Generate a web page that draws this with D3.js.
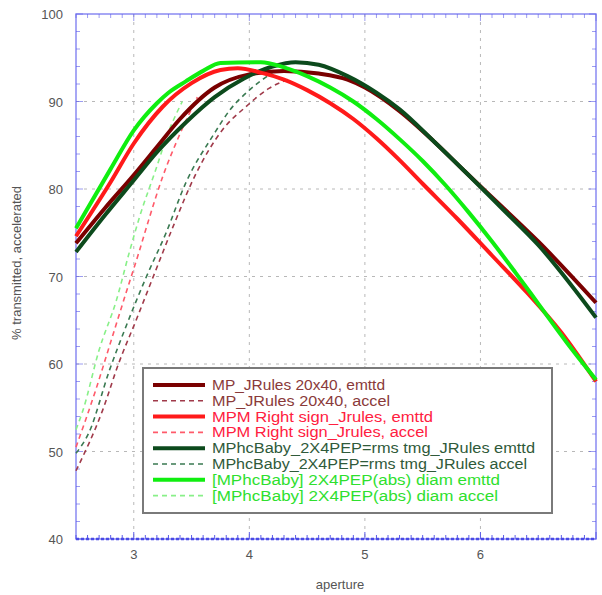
<!DOCTYPE html>
<html>
<head>
<meta charset="utf-8">
<script src="https://cdn.jsdelivr.net/npm/d3@7"></script>
<style>
  html, body { margin: 0; padding: 0; background: #fff; }
  svg { display: block; font-family: "Liberation Sans", "DejaVu Sans", sans-serif; }
</style>
</head>
<body>
<svg id="chart" width="602" height="595"></svg>
<script>
// ---- data ----
const seriesNames = [
  "MP_JRules 20x40, emttd",
  "MP_JRules 20x40, accel",
  "MPM Right sign_Jrules, emttd",
  "MPM Right sign_Jrules, accel",
  "MPhcBaby_2X4PEP=rms tmg_JRules emttd",
  "MPhcBaby_2X4PEP=rms tmg_JRules accel",
  "[MPhcBaby] 2X4PEP(abs) diam emttd",
  "[MPhcBaby] 2X4PEP(abs) diam accel"
];
const seriesColors = ["#7a0000", "#a03a4a", "#ff1a1a", "#ff5a6a", "#0c4a1c", "#3a7a52", "#10ee10", "#88f088"];
const seriesTextColors = ["#8a3a3a", "#8a3a3a", "#ff2040", "#ff2040", "#2f5a3a", "#2f5a3a", "#2ee02e", "#2ee02e"];
const seriesDashed = [false, true, false, true, false, true, false, true];

const mpEmttdX = [2.5, 2.75, 3.0, 3.2, 3.4, 3.7, 4.0, 4.3, 4.6, 4.85, 5.0, 5.3, 5.6, 5.85, 6.2, 6.5, 7.0];
const mpEmttdY = [73.8, 77.8, 81.6, 84.8, 88.0, 91.6, 93.1, 93.5, 93.2, 92.5, 91.6, 88.9, 85.4, 82.2, 77.8, 74.0, 67.0];

const mpAccelX = [2.5, 2.73, 2.87, 3.02, 3.19, 3.34, 3.54, 3.77, 3.97, 4.17, 4.35];
const mpAccelY = [47.8, 54.7, 60.1, 65.0, 70.7, 75.7, 81.8, 86.8, 89.4, 91.5, 92.6];

const mpmEmttdX = [2.5, 2.8, 3.0, 3.25, 3.5, 3.75, 3.9, 4.1, 4.3, 4.5, 4.7, 4.9, 5.1, 5.3, 5.5, 5.8, 6.1, 6.4, 6.7, 7.0];
const mpmEmttdY = [74.6, 80.8, 85.2, 89.4, 92.1, 93.6, 93.8, 93.3, 92.5, 91.3, 89.8, 88.0, 85.8, 83.3, 80.6, 76.6, 72.4, 68.2, 63.6, 58.0];

const mpmAccelX = [2.5, 2.67, 2.8, 2.93, 3.05, 3.13, 3.25, 3.39, 3.55];
const mpmAccelY = [50.5, 57.0, 62.5, 68.0, 73.0, 76.5, 81.4, 86.0, 90.5];

const babyEmttdX = [2.5, 2.75, 3.0, 3.2, 3.45, 3.7, 3.95, 4.2, 4.4, 4.6, 4.85, 5.1, 5.3, 5.6, 5.85, 6.2, 6.5, 7.0];
const babyEmttdY = [72.8, 77.0, 81.0, 84.2, 87.6, 90.5, 92.6, 94.0, 94.5, 94.2, 92.9, 91.0, 89.1, 85.4, 82.2, 77.6, 73.6, 65.3];

const babyAccelX = [2.5, 2.61, 2.79, 2.93, 3.11, 3.28, 3.45, 3.69, 3.83, 4.0, 4.2];
const babyAccelY = [49.8, 52.1, 59.3, 64.2, 70.0, 75.0, 80.7, 86.2, 89.0, 91.3, 93.3];

const diamEmttdX = [2.5, 2.8, 3.0, 3.2, 3.3, 3.45, 3.6, 3.75, 4.1, 4.3, 4.5, 4.7, 4.9, 5.1, 5.3, 5.5, 5.7, 5.9, 6.1, 6.3, 6.5, 6.75, 7.0];
const diamEmttdY = [75.5, 82.3, 86.7, 89.8, 91.0, 92.3, 93.5, 94.4, 94.5, 93.9, 92.9, 91.6, 90.0, 88.0, 85.7, 83.2, 80.4, 77.3, 74.0, 70.5, 66.9, 62.4, 58.2];

const diamAccelX = [2.5, 2.56, 2.7, 2.85, 2.96, 3.05, 3.19, 3.3, 3.42];
const diamAccelY = [52.5, 54.7, 61.6, 67.3, 72.7, 76.8, 82.2, 86.5, 90.0];

const seriesX = [mpEmttdX, mpAccelX, mpmEmttdX, mpmAccelX, babyEmttdX, babyAccelX, diamEmttdX, diamAccelX];
const seriesY = [mpEmttdY, mpAccelY, mpmEmttdY, mpmAccelY, babyEmttdY, babyAccelY, diamEmttdY, diamAccelY];

const xTicks = [3, 4, 5, 6];
const yTicks = [40, 50, 60, 70, 80, 90, 100];
const xTitle = "aperture";
const yTitle = "% transmitted, accelerated";

// ---- layout ----
const svg = d3.select("#chart");
const L = 76, R = 596, T = 14, B = 539;
const x = d3.scaleLinear().domain([2.5, 7]).range([L, R]);
const y = d3.scaleLinear().domain([40, 100]).range([B, T]);

// grid
const grid = svg.append("g");
grid.selectAll("line.gx").data(xTicks).enter().append("line")
  .attr("x1", d => x(d)).attr("x2", d => x(d)).attr("y1", T).attr("y2", B)
  .attr("stroke", "#b8b8b8").attr("stroke-width", 1).attr("stroke-dasharray", "3,5");
grid.selectAll("line.gy").data(yTicks.filter(d => d > 40 && d < 100)).enter().append("line")
  .attr("x1", L).attr("x2", R).attr("y1", d => y(d)).attr("y2", d => y(d))
  .attr("stroke", "#b8b8b8").attr("stroke-width", 1).attr("stroke-dasharray", "3,5");

// frame + ticks
const frameColor = "#8a8af2";
const tickColor = "#5a5ae8";
svg.append("rect").attr("x", L).attr("y", T).attr("width", R - L).attr("height", B - T)
  .attr("fill", "none").attr("stroke", frameColor).attr("stroke-width", 1.5);

const xMinor = d3.range(25, 71).map(v => v / 10);
const yMinor = d3.range(40, 101, 2);
const ticksG = svg.append("g").attr("stroke", tickColor).attr("stroke-width", 1);
xMinor.forEach(v => {
  const major = Number.isInteger(v);
  const len = major ? 7 : 4;
  ticksG.append("line").attr("x1", x(v)).attr("x2", x(v)).attr("y1", B).attr("y2", B - len);
  ticksG.append("line").attr("x1", x(v)).attr("x2", x(v)).attr("y1", T).attr("y2", T + len).attr("stroke-opacity", 0.6);
});
yMinor.forEach(v => {
  const major = v % 10 === 0;
  const len = major ? 7 : 4;
  ticksG.append("line").attr("x1", L).attr("x2", L + len).attr("y1", y(v)).attr("y2", y(v)).attr("stroke-opacity", 0.6);
  ticksG.append("line").attr("x1", R).attr("x2", R - len).attr("y1", y(v)).attr("y2", y(v)).attr("stroke-opacity", 0.6);
});
svg.append("line").attr("x1", L).attr("x2", R).attr("y1", B).attr("y2", B)
  .attr("stroke", "#4a4ae6").attr("stroke-width", 2.5).attr("stroke-dasharray", "3,2");

// tick labels
svg.append("g").selectAll("text").data(yTicks).enter().append("text")
  .attr("x", 63).attr("y", d => y(d) + 5).attr("text-anchor", "end")
  .attr("font-size", 13).attr("fill", "#555").text(d => d);
svg.append("g").selectAll("text").data(xTicks).enter().append("text")
  .attr("x", d => x(d)).attr("y", 559).attr("text-anchor", "middle")
  .attr("font-size", 13).attr("fill", "#555").text(d => d);

// axis titles
svg.append("text").attr("x", 340).attr("y", 589).attr("text-anchor", "middle")
  .attr("font-size", 13).attr("fill", "#555").text(xTitle);
svg.append("text").attr("transform", "translate(21,263) rotate(-90)")
  .attr("text-anchor", "middle").attr("font-size", 13).attr("fill", "#555").text(yTitle);

// series
const line = d3.line().x(d => x(d[0])).y(d => y(d[1])).curve(d3.curveMonotoneX);
const order = [1, 3, 5, 7, 0, 4, 2, 6];
const plotG = svg.append("g");
order.forEach(i => {
  const pts = seriesX[i].map((v, k) => [v, seriesY[i][k]]);
  plotG.append("path").datum(pts).attr("d", line)
    .attr("fill", "none")
    .attr("stroke", seriesColors[i])
    .attr("stroke-width", seriesDashed[i] ? 1.6 : 4)
    .attr("stroke-dasharray", seriesDashed[i] ? "5,4" : null)
    .attr("stroke-linejoin", "round");
});

// legend
const legX = 143, legY = 368, legW = 409, legH = 145;
svg.append("rect").attr("x", legX).attr("y", legY).attr("width", legW).attr("height", legH)
  .attr("fill", "#fff").attr("stroke", "#7a7a7a").attr("stroke-width", 2);
const textWidths = [173, 178, 221, 216, 323, 315, 288, 286];
const legG = svg.append("g");
seriesNames.forEach((name, i) => {
  const cy = 385 + i * 15.8;
  legG.append("line").attr("x1", 153).attr("x2", 205).attr("y1", cy).attr("y2", cy)
    .attr("stroke", seriesColors[i])
    .attr("stroke-width", seriesDashed[i] ? 1.6 : 4)
    .attr("stroke-dasharray", seriesDashed[i] ? "5,4" : null);
  legG.append("text").attr("x", 212).attr("y", cy + 5)
    .attr("font-size", 14).attr("fill", seriesTextColors[i])
    .attr("textLength", textWidths[i]).attr("lengthAdjust", "spacingAndGlyphs")
    .text(name);
});
</script>
</body>
</html>
